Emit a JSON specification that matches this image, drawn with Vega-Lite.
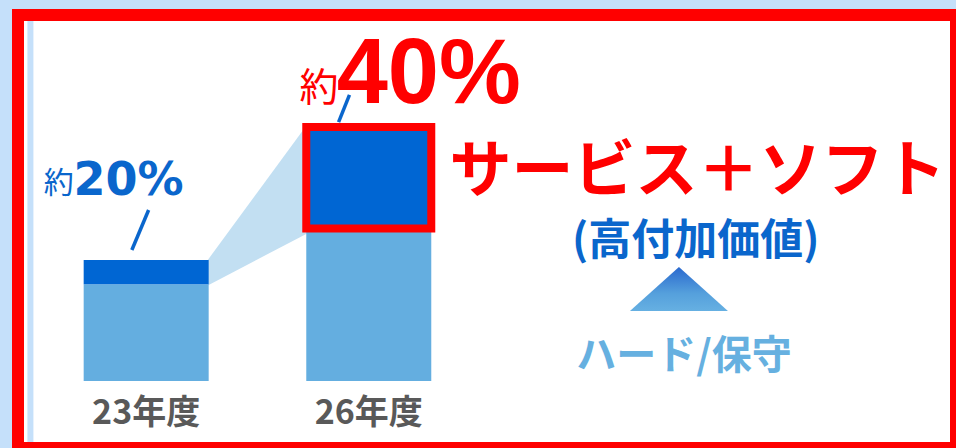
{
  "$schema": "https://vega.github.io/schema/vega-lite/v6.json",
  "width": 938,
  "height": 433,
  "autosize": {"type": "none"},
  "padding": {"left": 18, "top": 15, "right": 0, "bottom": 0},
  "background": "#c5e0fa",
  "config": {
    "view": {"fill": "#ffffff", "stroke": "#ff0000", "strokeWidth": 12},
    "text": {"font": "Noto Sans CJK JP"}
  },
  "datasets": {
    "bars": [
      {"年度": 23, "区分": "ハード/保守", "値": 80},
      {"年度": 23, "区分": "サービス＋ソフト", "値": 20},
      {"年度": 26, "区分": "ハード/保守", "値": 126},
      {"年度": 26, "区分": "サービス＋ソフト", "値": 84}
    ],
    "connector": [
      {"年度": 23.83, "上": 100, "下": 79},
      {"年度": 25.17, "上": 212, "下": 122}
    ],
    "years": [
      {"年度": 23, "ラベル": "23年度"},
      {"年度": 26, "ラベル": "26年度"}
    ],
    "one": [{}]
  },
  "layer": [
    {
      "data": {"name": "one"},
      "mark": {"type": "rule", "color": "#c5e0fa", "strokeWidth": 6},
      "encoding": {
        "x": {"datum": 21.44, "type": "quantitative", "scale": {"domain": [21.34, 33.8467], "nice": false, "zero": false}, "axis": null},
        "y": {"datum": 297.5, "type": "quantitative", "scale": {"domain": [-55.37, 302.48], "nice": false, "zero": false}, "axis": null},
        "y2": {"datum": -50.4}
      }
    },
    {
      "data": {"name": "connector"},
      "mark": {"type": "area", "color": "#c2dff2"},
      "encoding": {
        "x": {"field": "年度", "type": "quantitative", "scale": {"domain": [21.34, 33.8467], "nice": false, "zero": false}, "axis": null},
        "y": {"field": "上", "type": "quantitative", "scale": {"domain": [-55.37, 302.48], "nice": false, "zero": false}, "axis": null},
        "y2": {"field": "下"}
      }
    },
    {
      "data": {"name": "bars"},
      "transform": [
        {"stack": "値", "groupby": ["年度"], "sort": [{"field": "区分", "order": "descending"}], "as": ["下", "上"]}
      ],
      "mark": {"type": "bar", "width": 125},
      "encoding": {
        "x": {"field": "年度", "type": "quantitative", "scale": {"domain": [21.34, 33.8467], "nice": false, "zero": false}, "axis": null},
        "y": {"field": "下", "type": "quantitative", "scale": {"domain": [-55.37, 302.48], "nice": false, "zero": false}, "axis": null},
        "y2": {"field": "上"},
        "color": {"field": "区分", "type": "nominal", "scale": {"domain": ["ハード/保守", "サービス＋ソフト"], "range": ["#64aee0", "#0066d3"]}, "legend": null}
      }
    },
    {
      "data": {"name": "bars"},
      "transform": [
        {"stack": "値", "groupby": ["年度"], "sort": [{"field": "区分", "order": "descending"}], "as": ["下", "上"]},
        {"filter": "datum['年度'] == 26 && datum['区分'] == 'サービス＋ソフト'"}
      ],
      "mark": {"type": "bar", "width": 125, "fillOpacity": 0, "stroke": "#ff0000", "strokeWidth": 8},
      "encoding": {
        "x": {"field": "年度", "type": "quantitative", "scale": {"domain": [21.34, 33.8467], "nice": false, "zero": false}, "axis": null},
        "y": {"field": "下", "type": "quantitative", "scale": {"domain": [-55.37, 302.48], "nice": false, "zero": false}, "axis": null},
        "y2": {"field": "上"}
      }
    },
    {
      "data": {"name": "years"},
      "mark": {"type": "text", "font": "Noto Sans CJK JP", "fontWeight": "bold", "fontSize": 34, "color": "#595959", "align": "center", "baseline": "alphabetic"},
      "encoding": {
        "x": {"field": "年度", "type": "quantitative", "scale": {"domain": [21.34, 33.8467], "nice": false, "zero": false}, "axis": null},
        "y": {"datum": -35.5, "type": "quantitative", "scale": {"domain": [-55.37, 302.48], "nice": false, "zero": false}, "axis": null},
        "text": {"field": "ラベル"}
      }
    },
    {
      "data": {"name": "one"},
      "mark": {"type": "rule", "color": "#0a66cc", "strokeWidth": 3.5},
      "encoding": {
        "x": {"datum": 22.807, "type": "quantitative", "scale": {"domain": [21.34, 33.8467], "nice": false, "zero": false}, "axis": null},
        "y": {"datum": 108.3, "type": "quantitative", "scale": {"domain": [-55.37, 302.48], "nice": false, "zero": false}, "axis": null},
        "x2": {"datum": 23.033},
        "y2": {"datum": 141.3}
      }
    },
    {
      "data": {"name": "one"},
      "mark": {"type": "rule", "color": "#0a66cc", "strokeWidth": 3.5},
      "encoding": {
        "x": {"datum": 25.593, "type": "quantitative", "scale": {"domain": [21.34, 33.8467], "nice": false, "zero": false}, "axis": null},
        "y": {"datum": 214.0, "type": "quantitative", "scale": {"domain": [-55.37, 302.48], "nice": false, "zero": false}, "axis": null},
        "x2": {"datum": 25.74},
        "y2": {"datum": 236.4}
      }
    },
    {
      "data": {"name": "one"},
      "mark": {"type": "text", "text": "約", "font": "Noto Sans CJK JP", "fontSize": 30, "color": "#0a66cc", "align": "left", "baseline": "alphabetic"},
      "encoding": {
        "x": {"datum": 21.62, "type": "quantitative", "scale": {"domain": [21.34, 33.8467], "nice": false, "zero": false}, "axis": null},
        "y": {"datum": 155.4, "type": "quantitative", "scale": {"domain": [-55.37, 302.48], "nice": false, "zero": false}, "axis": null}
      }
    },
    {
      "data": {"name": "one"},
      "mark": {"type": "text", "text": "20%", "font": "DejaVu Sans", "fontWeight": "bold", "fontSize": 46, "color": "#0a66cc", "align": "left", "baseline": "alphabetic"},
      "encoding": {
        "x": {"datum": 22.02, "type": "quantitative", "scale": {"domain": [21.34, 33.8467], "nice": false, "zero": false}, "axis": null},
        "y": {"datum": 153.7, "type": "quantitative", "scale": {"domain": [-55.37, 302.48], "nice": false, "zero": false}, "axis": null}
      }
    },
    {
      "data": {"name": "one"},
      "mark": {"type": "text", "text": "約", "font": "Noto Sans CJK JP", "fontSize": 39, "color": "#ff0000", "align": "left", "baseline": "alphabetic"},
      "encoding": {
        "x": {"datum": 25.067, "type": "quantitative", "scale": {"domain": [21.34, 33.8467], "nice": false, "zero": false}, "axis": null},
        "y": {"datum": 231.4, "type": "quantitative", "scale": {"domain": [-55.37, 302.48], "nice": false, "zero": false}, "axis": null}
      }
    },
    {
      "data": {"name": "one"},
      "mark": {"type": "text", "text": "40%", "font": "Liberation Sans", "fontWeight": "bold", "fontSize": 92, "color": "#ff0000", "align": "left", "baseline": "alphabetic"},
      "encoding": {
        "x": {"datum": 25.567, "type": "quantitative", "scale": {"domain": [21.34, 33.8467], "nice": false, "zero": false}, "axis": null},
        "y": {"datum": 229.75, "type": "quantitative", "scale": {"domain": [-55.37, 302.48], "nice": false, "zero": false}, "axis": null}
      }
    },
    {
      "data": {"name": "one"},
      "mark": {"type": "text", "text": "サービス＋ソフト", "font": "Noto Sans CJK JP", "fontWeight": "bold", "fontSize": 62, "color": "#ff0000", "align": "center", "baseline": "alphabetic"},
      "encoding": {
        "x": {"datum": 30.43, "type": "quantitative", "scale": {"domain": [21.34, 33.8467], "nice": false, "zero": false}, "axis": null},
        "y": {"datum": 156.2, "type": "quantitative", "scale": {"domain": [-55.37, 302.48], "nice": false, "zero": false}, "axis": null}
      }
    },
    {
      "data": {"name": "one"},
      "mark": {"type": "text", "text": "(高付加価値)", "font": "Noto Sans CJK JP", "fontWeight": "bold", "fontSize": 43, "color": "#0a66cc", "align": "center", "baseline": "alphabetic"},
      "encoding": {
        "x": {"datum": 30.407, "type": "quantitative", "scale": {"domain": [21.34, 33.8467], "nice": false, "zero": false}, "axis": null},
        "y": {"datum": 104.2, "type": "quantitative", "scale": {"domain": [-55.37, 302.48], "nice": false, "zero": false}, "axis": null}
      }
    },
    {
      "data": {"name": "one"},
      "mark": {
        "type": "point",
        "shape": "M0,-0.449L1,0.449L-1,0.449Z",
        "size": 9604,
        "filled": true,
        "opacity": 1,
        "strokeWidth": 0,
        "fill": {"gradient": "linear", "x1": 0, "y1": 0, "x2": 0, "y2": 1, "stops": [{"offset": 0, "color": "#2a69cf"}, {"offset": 0.6, "color": "#55a0dc"}, {"offset": 1, "color": "#66b0e2"}]}
      },
      "encoding": {
        "x": {"datum": 30.18, "type": "quantitative", "scale": {"domain": [21.34, 33.8467], "nice": false, "zero": false}, "axis": null},
        "y": {"datum": 76.0, "type": "quantitative", "scale": {"domain": [-55.37, 302.48], "nice": false, "zero": false}, "axis": null}
      }
    },
    {
      "data": {"name": "one"},
      "mark": {"type": "text", "text": "ハード/保守", "font": "Noto Sans CJK JP", "fontWeight": "bold", "fontSize": 40, "color": "#66b0e0", "align": "center", "baseline": "alphabetic"},
      "encoding": {
        "x": {"datum": 30.247, "type": "quantitative", "scale": {"domain": [21.34, 33.8467], "nice": false, "zero": false}, "axis": null},
        "y": {"datum": 9.9, "type": "quantitative", "scale": {"domain": [-55.37, 302.48], "nice": false, "zero": false}, "axis": null}
      }
    }
  ]
}
